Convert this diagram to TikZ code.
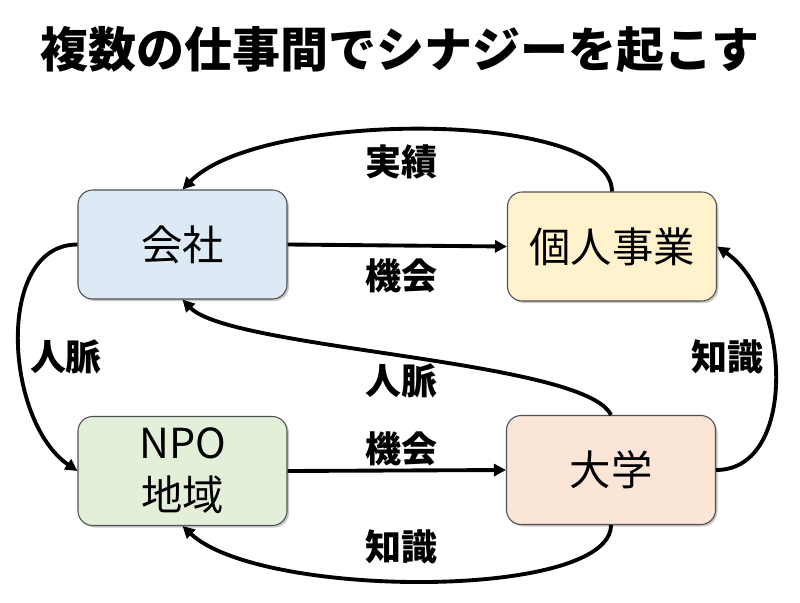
\documentclass[tikz,border=0pt]{standalone}
\usepackage{fontspec}
\setmainfont{Noto Sans CJK JP}
\usetikzlibrary{arrows.meta,shadows}
\definecolor{cblue}{HTML}{DEE9F6}
\definecolor{cyellow}{HTML}{FFF2CC}
\definecolor{cgreen}{HTML}{E2F0D9}
\definecolor{cpeach}{HTML}{FBE5D6}
\definecolor{cborder}{HTML}{505050}
\begin{document}
\begin{tikzpicture}[x=0.75pt,y=-0.75pt,
  box/.style={draw=cborder,line width=0.8pt,rounded corners=11pt,minimum width=156.75pt,minimum height=81.75pt,
    align=center,font=\fontsize{31}{39}\selectfont,inner sep=0pt,
    drop shadow={shadow xshift=1.5pt,shadow yshift=-1.5pt,opacity=0.35,fill=black!60}},
  flow/.style={line width=2.9pt,-{Triangle[length=9pt,width=9pt]}},
  lbl/.style={font=\fontsize{27}{30}\selectfont\bfseries,inner sep=0pt}]
\useasboundingbox (0,0) rectangle (800,603);
\node[font=\fontsize{36}{40}\selectfont\bfseries] (title) at (400,50) {複数の仕事間でシナジーを起こす};
\node[box,fill=cblue] (ks) at (182.5,244.5) {会社};
\node[box,fill=cyellow] (kj) at (612,246.5) {個人事業};
\node[box,fill=cgreen] (npo) at (182.5,471) {NPO\\地域};
\node[box,fill=cpeach] (dg) at (611,470) {大学};
% arrows
\draw[flow] (kj.north) .. controls +(0,-82) and +(78,-80) .. (ks.north);
\draw[flow] (ks.east) -- (kj.west);
\draw[flow] (ks.west) .. controls +(-83,0) and +(-73,-50) .. (npo.west);
\draw[flow] (dg.east) .. controls +(83,0) and +(73,50) .. (kj.east);
\draw[flow] (dg.north) .. controls +(-26,-55) and +(48,50) .. (ks.south);
\draw[flow] (npo.east) -- (dg.west);
\draw[flow] (dg.south) .. controls +(0,75) and +(78,73) .. (npo.south);
% labels
\node[lbl] (l1) at (401,162) {実績};
\node[lbl] (l2) at (401,276) {機会};
\node[lbl] (l3) at (66,357) {人脈};
\node[lbl] (l4) at (727,357) {知識};
\node[lbl] (l5) at (401,381) {人脈};
\node[lbl] (l6) at (401,449) {機会};
\node[lbl] (l7) at (401,547) {知識};
\end{tikzpicture}
\end{document}
